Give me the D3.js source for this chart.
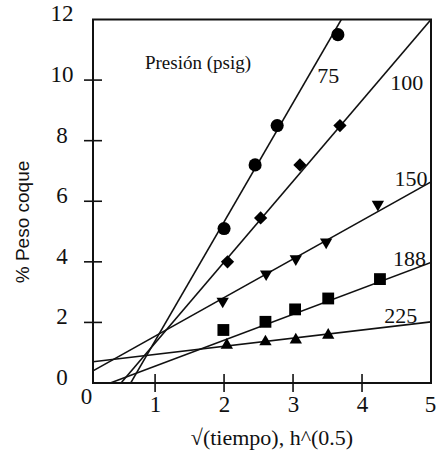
<!DOCTYPE html>
<html>
<head>
<meta charset="utf-8">
<script src="https://cdn.jsdelivr.net/npm/d3@7"></script>
<style>
  html, body { margin: 0; padding: 0; background: #fff; }
  svg { display: block; }
</style>
</head>
<body>
<script>
// ---- data ----
const pressures = ["75", "100", "150", "188", "225"];
const x75  = [2.0, 2.45, 2.77, 3.65];
const y75  = [5.1, 7.2, 8.5, 11.5];
const x100 = [2.05, 2.53, 3.1, 3.68];
const y100 = [4.0, 5.45, 7.2, 8.5];
const x150 = [1.98, 2.61, 3.04, 3.48, 4.23];
const y150 = [2.7, 3.6, 4.1, 4.65, 5.9];
const x188 = [1.99, 2.6, 3.03, 3.51, 4.26];
const y188 = [1.75, 2.02, 2.43, 2.79, 3.43];
const x225 = [2.04, 2.6, 3.04, 3.51];
const y225 = [1.25, 1.36, 1.42, 1.58];
// fitted straight lines (y = intercept + slope * x)
const intercepts = [-2.538, -1.351, 0.273, -0.30, 0.673];
const slopes     = [3.929, 2.67, 1.273, 0.856, 0.269];
const xTickLabels = [0, 1, 2, 3, 4, 5];
const xTickMarks  = [1, 2, 3, 4];
const yTickLabels = [0, 2, 4, 6, 8, 10, 12];
const yTickMarks  = [2, 4, 6, 8, 10];
const legendTitle = "Presión (psig)";
const xTitle = "√(tiempo), h^(0.5)";
const yTitle = "% Peso coque";

const seriesX = [x75, x100, x150, x188, x225];
const seriesY = [y75, y100, y150, y188, y225];

// ---- layout ----
const W = 439, H = 450;
const pL = 93, pR = 431, pT = 19.5, pB = 383;
const serif = "'Liberation Serif', 'Times New Roman', serif";
const sans = "'Liberation Sans', Arial, sans-serif";

const x = d3.scaleLinear().domain([0.1, 5]).range([pL, pR]);
const y = d3.scaleLinear().domain([0, 12]).range([pB, pT]);

const svg = d3.select("body").append("svg")
  .attr("width", W).attr("height", H)
  .style("background", "#fff");

svg.append("defs").append("clipPath").attr("id", "plotclip")
  .append("rect").attr("x", pL).attr("y", pT)
  .attr("width", pR - pL).attr("height", pB - pT);

// fitted lines
const lineGen = d3.line().x(d => x(d[0])).y(d => y(d[1]));
const lg = svg.append("g").attr("clip-path", "url(#plotclip)");
pressures.forEach((p, i) => {
  const xs = x.domain();
  const pts = xs.map(v => [v, intercepts[i] + slopes[i] * v]);
  lg.append("path").attr("d", lineGen(pts))
    .attr("fill", "none").attr("stroke", "#111").attr("stroke-width", 1.6);
});

// markers
const symbols = [
  { type: d3.symbolCircle, size: 135, rot: 0 },
  { type: d3.symbolSquare, size: 88, rot: 45 },
  { type: d3.symbolTriangle, size: 66, rot: 180 },
  { type: d3.symbolSquare, size: 140, rot: 0 },
  { type: d3.symbolTriangle, size: 66, rot: 0 }
];
pressures.forEach((p, i) => {
  const s = symbols[i];
  const gen = d3.symbol().type(s.type).size(s.size);
  svg.append("g").selectAll("path")
    .data(seriesX[i].map((v, j) => [v, seriesY[i][j]]))
    .join("path")
    .attr("d", gen)
    .attr("transform", d => `translate(${x(d[0])},${y(d[1])}) rotate(${s.rot})`)
    .attr("fill", "#000");
});

// frame
svg.append("rect").attr("x", pL).attr("y", pT)
  .attr("width", pR - pL).attr("height", pB - pT)
  .attr("fill", "none").attr("stroke", "#111").attr("stroke-width", 2);

// y axis
const yAxis = d3.axisLeft(y).tickValues(yTickLabels).tickFormat(d3.format("d"))
  .tickSize(0).tickPadding(0);
const ya = svg.append("g").attr("transform", `translate(${pL},0)`).call(yAxis);
ya.select(".domain").remove();
ya.selectAll("text")
  .attr("x", -31).attr("dy", "0.32em").attr("y", -6)
  .attr("text-anchor", "middle")
  .style("font-family", serif).style("font-size", "23px").attr("fill", "#111");
svg.append("g").selectAll("line").data(yTickMarks).join("line")
  .attr("x1", pL - 9).attr("x2", pL + 9)
  .attr("y1", d => y(d)).attr("y2", d => y(d))
  .attr("stroke", "#111").attr("stroke-width", 1.6);

// x axis
const xAxis = d3.axisBottom(x).tickValues(xTickLabels).tickFormat(d3.format("d"))
  .tickSize(0).tickPadding(0);
const xa = svg.append("g").attr("transform", `translate(0,${pB})`).call(xAxis);
xa.select(".domain").remove();
xa.selectAll("text")
  .attr("y", 22).attr("dy", "0.32em")
  .style("font-family", serif).style("font-size", "23px").attr("fill", "#111");
xa.selectAll(".tick").filter(d => d === 0).select("text").attr("y", 14);
xa.selectAll(".tick").filter(d => d === 5).select("text").attr("x", -1);
svg.append("g").selectAll("line").data(xTickMarks).join("line")
  .attr("x1", d => x(d)).attr("x2", d => x(d))
  .attr("y1", pB - 9).attr("y2", pB + 9)
  .attr("stroke", "#111").attr("stroke-width", 1.6);

// series labels (placed in data units)
const labelAt = [[3.51, 10.17], [4.65, 9.93], [4.71, 6.77], [4.69, 4.13], [4.56, 2.24]];
pressures.forEach((p, i) => {
  svg.append("text")
    .attr("x", x(labelAt[i][0])).attr("y", y(labelAt[i][1]))
    .attr("dy", "0.35em").attr("text-anchor", "middle")
    .style("font-family", serif).style("font-size", "22px").attr("fill", "#111")
    .text(p);
});

// legend title
svg.append("text").attr("x", 198).attr("y", 62).attr("dy", "0.35em")
  .attr("text-anchor", "middle")
  .style("font-family", serif).style("font-size", "19px").attr("fill", "#111")
  .text(legendTitle);

// axis titles
svg.append("text").attr("x", 272).attr("y", 437).attr("dy", "0.35em")
  .attr("text-anchor", "middle")
  .style("font-family", serif).style("font-size", "22px").attr("fill", "#111")
  .text(xTitle);
svg.append("text")
  .attr("transform", "translate(22,222) rotate(-90)")
  .attr("dy", "0.35em").attr("text-anchor", "middle")
  .style("font-family", sans).style("font-size", "19px").attr("fill", "#111")
  .text(yTitle);
</script>
</body>
</html>
